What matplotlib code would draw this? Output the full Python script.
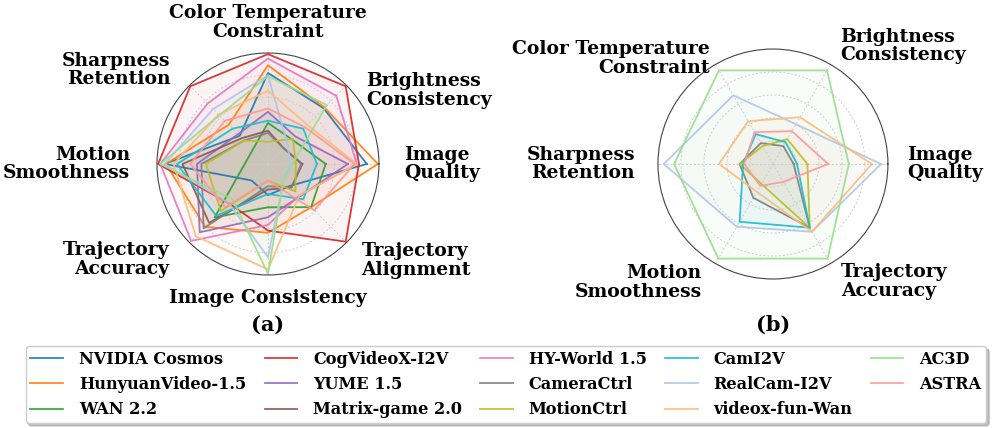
import numpy as np
import matplotlib
matplotlib.use("Agg")
import matplotlib.pyplot as plt
from matplotlib.lines import Line2D

plt.rcParams['font.family'] = ['DejaVu Serif']
plt.rcParams['font.weight'] = 'bold'

# ---------------- data ----------------
metrics_a = ["Image\nQuality", "Brightness\nConsistency", "Color Temperature\nConstraint",
             "Sharpness\nRetention", "Motion\nSmoothness", "Trajectory\nAccuracy",
             "Image Consistency", "Trajectory\nAlignment"]
metrics_b = ["Image\nQuality", "Brightness\nConsistency", "Color Temperature\nConstraint",
             "Sharpness\nRetention", "Motion\nSmoothness", "Trajectory\nAccuracy"]

models = ["NVIDIA Cosmos", "HunyuanVideo-1.5", "WAN 2.2", "CogVideoX-I2V", "YUME 1.5",
          "Matrix-game 2.0", "HY-World 1.5", "CameraCtrl", "MotionCtrl", "CamI2V",
          "RealCam-I2V", "videox-fun-Wan", "AC3D", "ASTRA"]

# panel (a) normalised scores: IQ, BC, CTC, SR, MS, TAcc, IC, TAlign
nvidia_cosmos  = [0.89, 0.71, 0.82, 0.36, 0.93, 0.21, 0.28, 0.28]
hunyuan        = [0.99, 0.72, 0.89, 0.50, 0.92, 0.80, 0.62, 0.55]
wan22          = [0.52, 0.31, 0.37, 0.19, 0.21, 0.68, 0.39, 0.55]
cogvideox      = [0.82, 0.99, 0.99, 0.99, 0.99, 0.50, 0.60, 0.99]
yume           = [0.72, 0.35, 0.47, 0.38, 0.64, 0.87, 0.48, 0.41]
matrix_game    = [0.31, 0.20, 0.30, 0.33, 0.77, 0.75, 0.23, 0.30]
hy_world       = [0.80, 0.87, 0.95, 0.77, 0.97, 0.98, 0.55, 0.40]
cameractrl_a   = [0.30, 0.20, 0.28, 0.30, 0.60, 0.82, 0.20, 0.30]
motionctrl_a   = [0.25, 0.32, 0.20, 0.30, 0.56, 0.60, 0.15, 0.35]
cami2v_a       = [0.44, 0.45, 0.39, 0.45, 0.82, 0.66, 0.27, 0.45]
realcam_a      = [0.20, 0.25, 0.80, 0.70, 0.93, 0.50, 0.84, 0.20]
videox_a       = [0.80, 0.50, 0.66, 0.63, 0.85, 0.92, 0.95, 0.40]
ac3d_a         = [0.22, 0.75, 0.79, 0.62, 0.97, 0.45, 0.99, 0.20]
astra_a        = [0.78, 0.47, 0.50, 0.55, 0.70, 0.55, 0.15, 0.59]

# panel (b) normalised scores: IQ, BC, CTC, SR, MS, TAcc
cameractrl_b = [0.18, 0.18, 0.21, 0.29, 0.34, 0.64]
motionctrl_b = [0.30, 0.25, 0.18, 0.29, 0.20, 0.64]
cami2v_b     = [0.21, 0.22, 0.30, 0.26, 0.58, 0.64]
realcam_b    = [0.94, 0.40, 0.69, 0.95, 0.63, 0.68]
videox_b     = [0.86, 0.47, 0.43, 0.47, 0.28, 0.68]
ac3d_b       = [0.66, 0.94, 0.94, 0.86, 0.95, 0.95]
astra_b      = [0.48, 0.33, 0.32, 0.25, 0.22, 0.18]

series_a = [nvidia_cosmos, hunyuan, wan22, cogvideox, yume, matrix_game, hy_world,
            cameractrl_a, motionctrl_a, cami2v_a, realcam_a, videox_a, ac3d_a, astra_a]
models_b = ["CameraCtrl", "MotionCtrl", "CamI2V", "RealCam-I2V", "videox-fun-Wan", "AC3D", "ASTRA"]
series_b = [cameractrl_b, motionctrl_b, cami2v_b, realcam_b, videox_b, ac3d_b, astra_b]

colors = {
    "NVIDIA Cosmos": "#1f77b4", "HunyuanVideo-1.5": "#ff7f0e", "WAN 2.2": "#2ca02c",
    "CogVideoX-I2V": "#d62728", "YUME 1.5": "#9467bd", "Matrix-game 2.0": "#8c564b",
    "HY-World 1.5": "#e377c2", "CameraCtrl": "#7f7f7f", "MotionCtrl": "#bcbd22",
    "CamI2V": "#17becf", "RealCam-I2V": "#aec7e8", "videox-fun-Wan": "#ffbb78",
    "AC3D": "#98df8a", "ASTRA": "#ff9896",
}

# ---------------- figure ----------------
fig = plt.figure(figsize=(9.96, 4.28), dpi=100)
ax_a = fig.add_axes([0.1576, 0.3575, 0.2229, 0.5187], projection='polar')
ax_b = fig.add_axes([0.6606, 0.3481, 0.2309, 0.5374], projection='polar')


def setup(ax, n):
    ang = np.arange(n) * 2 * np.pi / n
    ax.set_ylim(0, 1)
    ax.set_yticks([0.2, 0.4, 0.6, 0.8])
    ax.set_yticklabels([])
    ax.set_xticks(ang)
    ax.set_xticklabels([])
    ax.grid(True, color='#cccccc', linestyle=(0, (2, 2)), linewidth=0.7)
    ax.spines['polar'].set_color('#444444')
    ax.spines['polar'].set_linewidth(0.8)
    ax.set_facecolor('white')
    return ang


def draw(ax, ang, names, data):
    for name, vals in zip(names, data):
        v = list(vals) + [vals[0]]
        a = list(ang) + [ang[0]]
        ax.plot(a, v, color=colors[name], linewidth=1.3, alpha=0.9)
        ax.fill(a, v, color=colors[name], alpha=0.05)


ang_a = setup(ax_a, len(metrics_a))
ang_b = setup(ax_b, len(metrics_b))
draw(ax_a, ang_a, models, series_a)
draw(ax_b, ang_b, models_b, series_b)

label_pos_a = [(0, 1.23, 'left', 'center'), (37, 1.105, 'left', 'center'),
               (90, 1.11, 'center', 'bottom'), (136, 1.22, 'right', 'center'),
               (180, 1.24, 'right', 'center'), (224, 1.24, 'right', 'center'),
               (270, 1.13, 'center', 'top'), (314, 1.21, 'left', 'center')]
label_pos_b = [(0, 1.17, 'left', 'center'), (60.4, 1.18, 'left', 'center'),
               (120.7, 1.07, 'right', 'center'), (180, 1.2, 'right', 'center'),
               (239, 1.2, 'right', 'center'), (300, 1.18, 'left', 'center')]

for ax, labels, pos in [(ax_a, metrics_a, label_pos_a), (ax_b, metrics_b, label_pos_b)]:
    for lab, (th, r, ha, va) in zip(labels, pos):
        ax.text(np.deg2rad(th), r, lab, ha=ha, va=va, fontsize=13.5,
                fontweight='bold', linespacing=1.05)

fig.text(268 / 996, 1 - 325 / 428, "(a)", ha='center', va='center', fontsize=15, fontweight='bold')
fig.text(773 / 996, 1 - 325 / 428, "(b)", ha='center', va='center', fontsize=15, fontweight='bold')

handles = [Line2D([0], [0], color=colors[m], linewidth=1.3, alpha=0.9) for m in models]
leg = fig.legend(handles, models, loc='lower center', bbox_to_anchor=(0.508, 5 / 428), ncol=5,
                 fontsize=11.6, frameon=True, shadow={'color': '#999999', 'alpha': 0.6},
                 handlelength=2.0, handletextpad=1.0, columnspacing=1.15, labelspacing=0.5,
                 borderpad=0.3, borderaxespad=0.0, fancybox=True)
for t in leg.get_texts():
    t.set_fontweight('bold')
leg.get_frame().set_edgecolor('#cccccc')

fig.savefig("out.png", dpi=100)
